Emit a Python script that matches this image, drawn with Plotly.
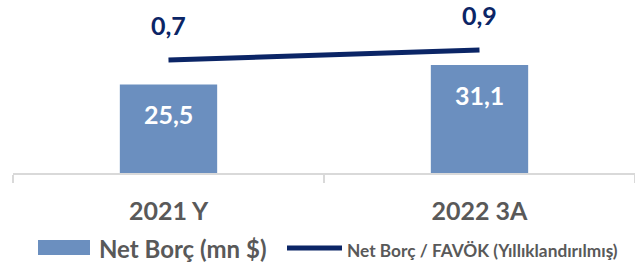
import plotly.graph_objects as go

categories = ["2021 Y", "2022 3A"]
net_debt = [25.5, 31.1]
net_debt_ebitda = [0.7, 0.9]
bar_name = "Net Borç (mn $)"
line_name = "Net Borç / FAVÖK (Yıllıklandırılmış)"

BAR_COLOR = "#6b8fbf"
LINE_COLOR = "#0b2566"
GRAY = "#595959"
FONT = "Lato"

W, H = 635, 264
ML, MR, MT, MB = 13, 0, 34, 91
PW, PH = W - ML - MR, H - MT - MB


def px_x(px):
    return (px - ML) / PW


def px_y(py):
    return (H - MB - py) / PH


def fmt(v):
    return f"{v:.1f}".replace(".", ",")


fig = go.Figure()
fig.add_trace(go.Bar(x=categories, y=net_debt, name=bar_name, marker_color=BAR_COLOR,
                     marker_line_width=0, yaxis="y", showlegend=False, hoverinfo="skip"))
fig.add_trace(go.Scatter(x=categories, y=net_debt_ebitda, name=line_name, mode="lines",
                         line=dict(color=LINE_COLOR, width=5), yaxis="y2", showlegend=False,
                         hoverinfo="skip"))

annotations = []
for c, v in zip(categories, net_debt):
    annotations.append(dict(x=c, y=v, xref="x", yref="y", text=fmt(v), showarrow=False,
                            yshift=-30, yanchor="middle",
                            font=dict(family=FONT, size=25, color="white", weight="bold")))
for c, v in zip(categories, net_debt_ebitda):
    annotations.append(dict(x=c, y=v, xref="x", yref="y2", text=fmt(v), showarrow=False,
                            yshift=35, yanchor="middle",
                            font=dict(family=FONT, size=25, color=LINE_COLOR, weight="bold")))

# legend (drawn manually to match the reference's symbol sizes)
annotations.append(dict(x=px_x(97), y=px_y(248), xref="paper", yref="paper", text=bar_name,
                        showarrow=False, xanchor="left", yanchor="middle",
                        font=dict(family=FONT, size=24, color=GRAY, weight="bold")))
annotations.append(dict(x=px_x(345), y=px_y(250), xref="paper", yref="paper", text=line_name,
                        showarrow=False, xanchor="left", yanchor="middle",
                        font=dict(family=FONT, size=17.3, color=GRAY, weight="bold")))
shapes = [
    dict(type="rect", xref="paper", yref="paper", x0=px_x(38), x1=px_x(90),
         y0=px_y(255), y1=px_y(240), fillcolor=BAR_COLOR, line_width=0),
    dict(type="line", xref="paper", yref="paper", x0=px_x(287), x1=px_x(342),
         y0=px_y(248), y1=px_y(248), line=dict(color=LINE_COLOR, width=5)),
]

fig.update_layout(
    width=W, height=H,
    margin=dict(l=ML, r=MR, t=MT, b=MB, pad=0),
    paper_bgcolor="white", plot_bgcolor="white",
    bargap=0.687,
    xaxis=dict(type="category", range=[-0.5, 1.5], showline=True, linecolor="#d9d9d9",
               linewidth=2, ticks="outside", tickson="boundaries", ticklen=8,
               tickcolor="#d9d9d9", tickwidth=2, showgrid=False, zeroline=False,
               automargin=False, ticklabelstandoff=15,
               tickfont=dict(family=FONT, size=25, color=GRAY, weight="bold")),
    yaxis=dict(range=[0, 40], visible=False, showgrid=False, zeroline=False),
    yaxis2=dict(range=[-1.56, 1.22], overlaying="y", visible=False, showgrid=False,
                zeroline=False),
    annotations=annotations,
    shapes=shapes,
    showlegend=False,
    hovermode=False,
)

fig.write_html("out.html", config={"displayModeBar": False},
               post_script="document.body.style.margin='0';")
